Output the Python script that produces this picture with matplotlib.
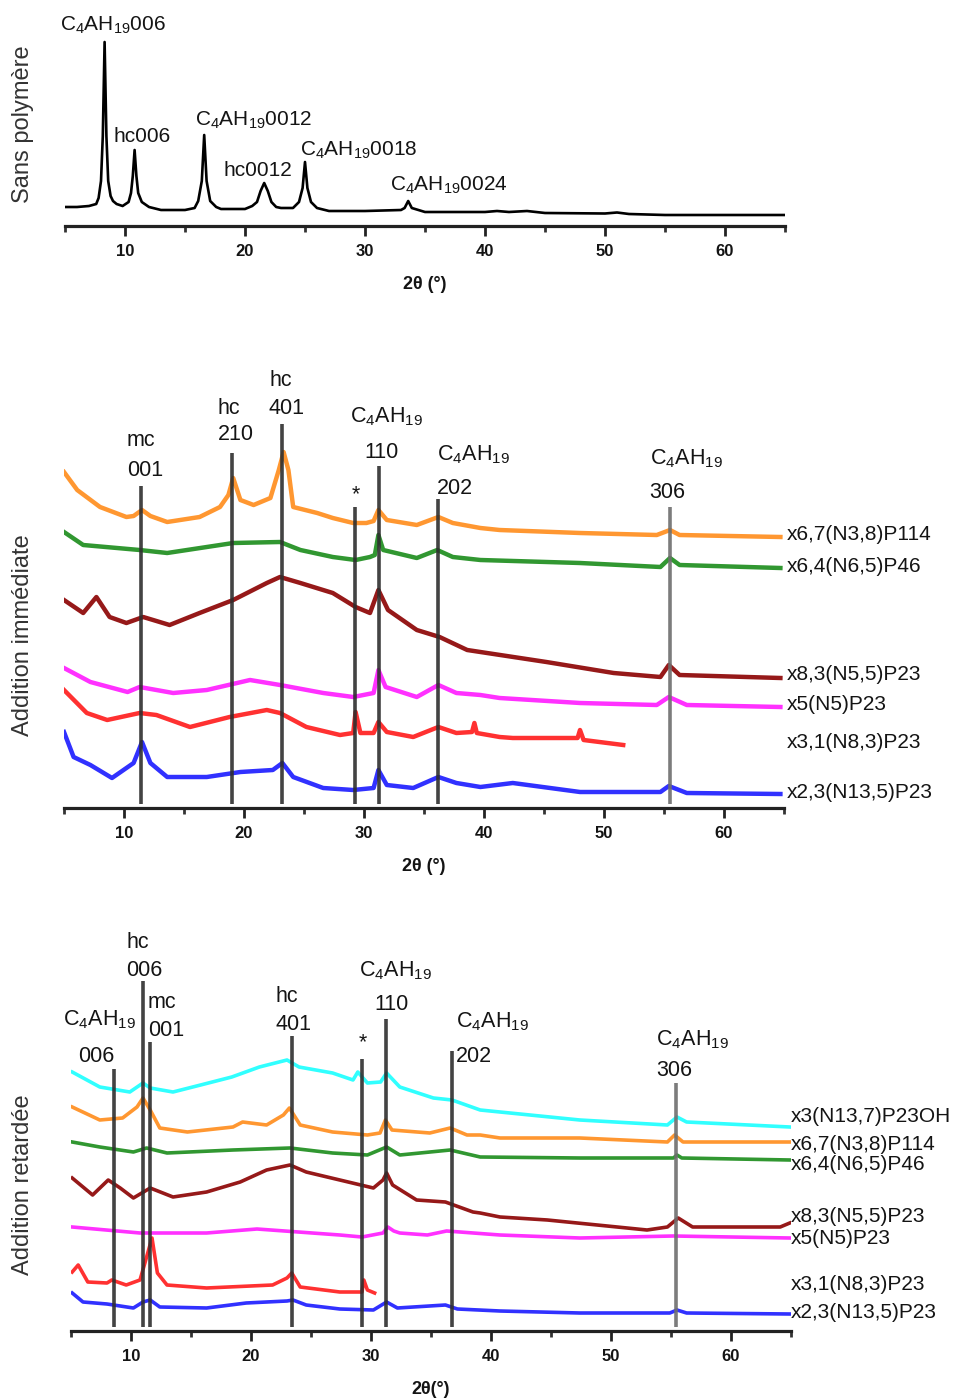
import matplotlib
matplotlib.use("Agg")
import matplotlib.pyplot as plt
from matplotlib.ticker import MultipleLocator

plt.rcParams['font.family'] = ['Liberation Sans', 'DejaVu Sans']
plt.rcParams['mathtext.fontset'] = 'custom'
plt.rcParams['mathtext.rm'] = 'Liberation Sans'
plt.rcParams['mathtext.it'] = 'Liberation Sans:italic'
plt.rcParams['mathtext.bf'] = 'Liberation Sans:bold'
plt.rcParams['mathtext.default'] = 'regular'

# ---------------------------------------------------------------- données ----
# Sans polymère
ref_x = [5, 6, 7, 7.6, 7.8, 8.0, 8.15, 8.3, 8.45, 8.6, 8.8, 9.0, 9.3, 9.8, 10.3, 10.5,
         10.65, 10.8, 10.95, 11.1, 11.4, 12, 13, 15, 15.8, 16.1, 16.4, 16.6, 16.8, 17.1,
         17.6, 18, 20, 20.6, 21.0, 21.3, 21.6, 21.9, 22.2, 22.6, 23, 24, 24.5, 24.8, 25.0,
         25.2, 25.5, 26, 27, 30, 33, 33.3, 33.6, 33.9, 35, 40, 41, 42, 43.5, 45, 50, 51,
         52, 55, 60, 65]
ref_y = [19, 19, 20, 22, 28, 45, 90, 184, 90, 45, 30, 25, 22, 20, 24, 33,
         50, 76, 50, 33, 24, 19, 16, 16, 18, 25, 45, 91, 45, 25,
         19, 17, 17, 20, 24, 35, 43, 35, 24, 19, 18, 18, 24, 38, 64,
         38, 24, 18, 15, 15, 16, 18, 25, 18, 14, 14, 15, 14, 15, 13, 12.5, 13.5,
         12, 11, 11, 11]

# Addition immédiate
imm_p114_x = [5, 6.1, 8, 10.2, 10.8, 11.5, 12.2, 13.6, 16.3, 18, 18.7, 19.1, 19.7, 20.8,
              22.2, 22.9, 23.3, 23.7, 24.1, 26.1, 27.4, 29.1, 30.2, 30.8, 31.2, 31.9, 34.4,
              36.2, 37.4, 39.7, 41.3, 48, 54.4, 55.5, 56.3, 64.7]
imm_p114_y = [336, 318, 301, 291, 292, 298, 292, 286, 291, 301, 313, 330, 308, 303,
              310, 338, 356, 338, 301, 295, 290, 285, 285, 287, 298, 288, 283,
              291, 285, 280, 278, 275, 273, 278, 273, 271]
imm_p46_x = [5, 6.6, 11.3, 13.6, 19.1, 23, 24.7, 27.4, 29.3, 30.5, 30.9, 31.2, 31.6, 34.4,
             36.1, 37.4, 39.7, 48, 54.7, 55.5, 56.3, 64.7]
imm_p46_y = [276, 263, 258, 255, 265, 266, 258, 251, 248, 251, 253, 273, 258, 250,
             258, 251, 248, 245, 241, 250, 243, 240]
imm_n55_x = [5, 6.6, 7.7, 8.8, 10.2, 11.6, 13.8, 16.3, 19.1, 21.9, 23, 24.7, 27.4, 29.3,
             30.5, 31.2, 32, 34.4, 36.3, 38.6, 39.7, 45.2, 50.8, 54.7, 55.4, 56.3, 64.7]
imm_n55_y = [208, 195, 211, 191, 185, 191, 183, 195, 208, 225, 231, 225, 215, 201,
             195, 218, 198, 178, 171, 158, 156, 146, 135, 131, 143, 133, 130]
imm_n5_x = [5, 7.2, 10.3, 11.3, 14.1, 16.9, 20.5, 23, 26.6, 29.1, 30.8, 31.2, 31.8, 34.4,
            36.2, 37.7, 39.7, 41.3, 48, 54.4, 55.4, 56.9, 64.7]
imm_n5_y = [140, 126, 116, 121, 115, 118, 128, 123, 115, 111, 115, 138, 121, 111,
            123, 115, 113, 110, 105, 103, 111, 103, 101]
imm_n83_x = [5, 6.9, 8.6, 11.3, 12.7, 15.5, 18.8, 21.9, 23, 25.2, 28, 29.1, 29.3, 29.7,
             30.8, 31.2, 31.9, 34.1, 36.2, 37.7, 39.0, 39.2, 39.4, 41.3, 42.4, 47.8, 48.0,
             48.3, 51.6]
imm_n83_y = [118, 95, 88, 95, 93, 81, 91, 98, 95, 81, 73, 75, 96, 75,
             75, 86, 76, 71, 81, 75, 76, 85, 75, 71, 70, 70, 78,
             68, 63]
imm_n135_x = [5, 5.8, 7.2, 9, 10.8, 11.5, 12.2, 13.6, 16.9, 19.7, 22.4, 23.2, 24.1, 26.6,
              29.1, 30.8, 31.2, 31.9, 34.1, 36.2, 37.7, 39.7, 42.4, 48, 54.7, 55.4, 56.9, 64.7]
imm_n135_y = [76, 51, 43, 30, 45, 66, 45, 31, 31, 36, 38, 45, 31, 20,
              18, 20, 38, 23, 20, 31, 25, 21, 25, 16, 16, 22, 15, 14]

# Addition retardée
ret_oh_x = [5.1, 7.4, 9.9, 11, 11.6, 13.5, 15.8, 18.4, 20.7, 23, 24, 26.8, 28.5, 28.9,
            29.7, 30.8, 31.3, 32.4, 35.2, 36.75, 39.1, 40.75, 47.4, 54.7, 55.5, 56.3, 64.9]
ret_oh_y = [259, 244, 239, 248, 243, 239, 246, 254, 264, 271, 264, 258, 251, 259,
            248, 249, 258, 244, 233, 231, 221, 219, 211, 206, 214, 209, 204]
ret_p114_x = [5.1, 7.4, 9.3, 10.5, 11, 11.6, 12.4, 14.7, 18.5, 19.3, 21.3, 22.7, 23.2, 24.1,
              26.8, 29.7, 30.75, 31.2, 31.75, 34.9, 36.6, 38, 39.1, 40.75, 47.4, 54.7, 55.3,
              56, 64.9]
ret_p114_y = [224, 211, 213, 224, 233, 221, 203, 199, 204, 209, 206, 216, 223, 206,
              199, 196, 198, 211, 201, 198, 203, 196, 196, 193, 193, 189, 196,
              189, 189]
ret_p46_x = [5.1, 7.4, 10.2, 11.3, 13, 18.5, 23.25, 26.8, 29.7, 31.3, 32.4, 36.6, 39.1,
             47.4, 55.2, 55.5, 55.9, 64.9]
ret_p46_y = [189, 184, 179, 183, 178, 181, 183, 178, 176, 184, 176, 181, 174,
             173, 173, 176, 173, 171]
ret_n55_x = [5.1, 6.8, 8.1, 9.1, 10.2, 11.6, 13.5, 16.3, 19.1, 21.3, 23.25, 24.6, 27.4,
             30.2, 31.0, 31.3, 31.8, 33.8, 36.2, 38.5, 39.1, 40.75, 44.7, 53, 54.7, 55.6,
             56.8, 64.1, 64.9]
ret_n55_y = [153, 136, 151, 143, 133, 143, 134, 139, 149, 161, 166, 159, 151,
             143, 151, 158, 146, 131, 129, 119, 118, 114, 111, 101, 104, 113,
             104, 104, 108]
ret_n5_x = [5.1, 10.75, 16.3, 20.5, 27.4, 29.25, 31.0, 31.4, 31.9, 32.4, 34.7, 36.3, 40.75,
            47.4, 55.2, 64.9]
ret_n5_y = [104, 98, 98, 102, 96, 94, 98, 104, 100, 98, 96, 100, 96,
            93, 95, 93]
ret_n83_x = [5.1, 5.6, 6.4, 8, 8.4, 9.6, 10.75, 11.3, 11.75, 12.2, 13, 16.3, 21.8, 23, 23.4,
             24.1, 27.4, 29.25, 29.4, 29.7, 30.3]
ret_n83_y = [59, 66, 49, 48, 51, 46, 51, 74, 93, 58, 46, 43, 46, 53, 58,
             44, 39, 39, 51, 41, 38]
ret_n135_x = [5.1, 6, 8, 10.2, 11, 11.6, 12.4, 16.3, 19.6, 23, 23.5, 24.6, 27.4, 30.2, 31.3,
              32.2, 36.2, 37.2, 40.75, 47.4, 54.9, 55.5, 56.3, 64.9]
ret_n135_y = [38, 29, 27, 23, 29, 31, 24, 23, 28, 30, 31, 26, 22, 21, 29,
              23, 26, 22, 20, 18, 18, 21, 18, 17]

# noms des échantillons
imm_names = ["x6,7(N3,8)P114", "x6,4(N6,5)P46", "x8,3(N5,5)P23", "x5(N5)P23",
             "x3,1(N8,3)P23", "x2,3(N13,5)P23"]
ret_names = ["x3(N13,7)P23OH", "x6,7(N3,8)P114", "x6,4(N6,5)P46", "x8,3(N5,5)P23",
             "x5(N5)P23", "x3,1(N8,3)P23", "x2,3(N13,5)P23"]

# raies de référence (2θ, hauteur du trait)
imm_lines_x = [11.4, 19.0, 23.2, 29.25, 31.25, 36.2, 55.5]
imm_lines_top = [322, 355, 384, 301, 342, 309, 301]
ret_lines_x = [8.6, 11.0, 11.6, 23.4, 29.25, 31.25, 36.75, 55.4]
ret_lines_top = [262, 350, 289, 295, 272, 312, 280, 248]

C4 = r"C$_4$AH$_{19}$"

# ------------------------------------------------------------- mise en forme --
fig = plt.figure(figsize=(9.71, 13.99), dpi=100)
W, H = 971.0, 1399.0
TXT = "#141414"


def make_axes(left_px, axis_px, top_px):
    ax = fig.add_axes([left_px / W, 1 - axis_px / H, 720 / W, (axis_px - top_px) / H])
    ax.set_xlim(5, 65)
    ax.set_ylim(0, axis_px - top_px)
    for s in ["left", "right", "top"]:
        ax.spines[s].set_visible(False)
    ax.spines["bottom"].set_linewidth(2.3)
    ax.spines["bottom"].set_color("#222222")
    ax.set_yticks([])
    ax.xaxis.set_major_locator(MultipleLocator(10))
    ax.xaxis.set_minor_locator(MultipleLocator(5))
    ax.tick_params(axis="x", which="major", length=7, width=2, color="#222222",
                   pad=6, labelsize=12, labelcolor=TXT)
    ax.tick_params(axis="x", which="minor", length=4.5, width=2, color="#333333")
    for lab in ax.get_xticklabels():
        lab.set_fontweight("bold")
    ax.patch.set_alpha(0)
    return ax


# ---- panneau 1 : sans polymère
ax1 = make_axes(65, 226, 10)
ax1.plot(ref_x, ref_y, color="black", lw=1.9)
ax1.set_xlabel("2θ (°)", fontsize=13, fontweight="bold", color=TXT, labelpad=12)
ref_labels = [(4.6, 201, C4 + "006"), (9.0, 90, "hc006"), (15.8, 106, C4 + "0012"),
              (18.2, 56, "hc0012"), (24.6, 76, C4 + "0018"), (32.1, 41, C4 + "0024")]
for x, y, t in ref_labels:
    ax1.text(x, y, t, fontsize=15, color=TXT, ha="left", va="center")

# ---- panneau 2 : addition immédiate
ax2 = make_axes(64, 808, 360)
imm_series = [(imm_p114_x, imm_p114_y, "#ff8c1a"), (imm_p46_x, imm_p46_y, "#1a8c1a"),
              (imm_n55_x, imm_n55_y, "#8b0000"), (imm_n5_x, imm_n5_y, "#ff1aff"),
              (imm_n83_x, imm_n83_y, "#ff1a1a"), (imm_n135_x, imm_n135_y, "#1a1aff")]
for xs, ys, c in imm_series:
    ax2.plot(xs, ys, color=c, lw=3.2, alpha=0.9)
for i, (x, top) in enumerate(zip(imm_lines_x, imm_lines_top)):
    ax2.vlines(x, 4, top, color="#6e6e6e" if i == 6 else "#2e2e2e", lw=2.6, zorder=3, alpha=0.9)
imm_labels = [(10.2, 367, "mc"), (10.25, 338, "001"), (17.75, 400, "hc"), (17.8, 373, "210"),
              (22.1, 427, "hc"), (22.0, 400, "401"), (28.8, 391, C4), (30.0, 355, "110"),
              (28.95, 313, "*"), (36.1, 353, C4), (36.1, 320, "202"),
              (53.8, 349, C4), (53.8, 315, "306")]
for x, y, t in imm_labels:
    ax2.text(x, y, t, fontsize=15.5, color=TXT, ha="left", va="center")
imm_label_y = [273, 241, 133, 103, 66, 15]
for name, y in zip(imm_names, imm_label_y):
    ax2.text(65.25, y, name, fontsize=15, color=TXT, ha="left", va="center", clip_on=False)
ax2.set_xlabel("2θ (°)", fontsize=13, fontweight="bold", color=TXT, labelpad=12)

# ---- panneau 3 : addition retardée
ax3 = make_axes(71, 1331, 925)
ret_series = [(ret_oh_x, ret_oh_y, "#1affff"), (ret_p114_x, ret_p114_y, "#ff8c1a"),
              (ret_p46_x, ret_p46_y, "#1a8c1a"), (ret_n55_x, ret_n55_y, "#8b0000"),
              (ret_n5_x, ret_n5_y, "#ff1aff"), (ret_n83_x, ret_n83_y, "#ff1a1a"),
              (ret_n135_x, ret_n135_y, "#1a1aff")]
for xs, ys, c in ret_series:
    ax3.plot(xs, ys, color=c, lw=2.6, alpha=0.9)
for i, (x, top) in enumerate(zip(ret_lines_x, ret_lines_top)):
    ax3.vlines(x, 4, top, color="#6e6e6e" if i == 7 else "#2e2e2e", lw=2.6, zorder=3, alpha=0.9)
ret_labels = [(4.33, 311, C4), (5.6, 275, "006"), (9.6, 388, "hc"), (9.6, 361, "006"),
              (11.4, 328, "mc"), (11.4, 300, "001"), (22.0, 334, "hc"), (22.0, 307, "401"),
              (28.95, 288, "*"), (29.0, 360, C4), (30.25, 326, "110"),
              (37.1, 309, C4), (37.1, 275, "202"), (53.75, 291, C4), (53.75, 261, "306")]
for x, y, t in ret_labels:
    ax3.text(x, y, t, fontsize=15.5, color=TXT, ha="left", va="center")
ret_label_y = [214, 187, 166, 115, 93, 47, 19]
for name, y in zip(ret_names, ret_label_y):
    ax3.text(65.0, y, name, fontsize=15, color=TXT, ha="left", va="center", clip_on=False)
ax3.set_xlabel("2θ(°)", fontsize=13, fontweight="bold", color=TXT, labelpad=12)

# titres verticaux
for yc, t in [(124, "Sans polymère"), (635, "Addition immédiate"), (1185, "Addition retardée")]:
    fig.text(23 / W, 1 - yc / H, t, rotation=90, fontsize=17, color="#333333",
             ha="center", va="center")

fig.savefig("out.png", dpi=100)
